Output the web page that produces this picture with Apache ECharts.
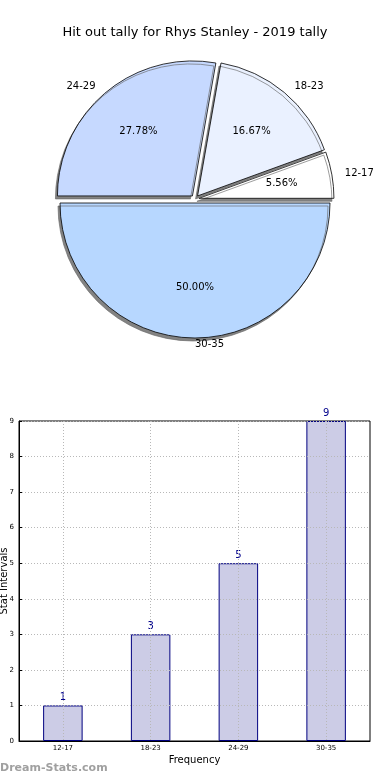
<!DOCTYPE html>
<html>
<head>
<meta charset="utf-8">
<script src="https://cdn.jsdelivr.net/npm/echarts@6/dist/echarts.min.js"></script>
<style>
html,body{margin:0;padding:0;background:#fff;}
#c{width:390px;height:780px;}
</style>
</head>
<body>
<div id="c"></div>
<script>
var titleText = 'Hit out tally for Rhys Stanley - 2019 tally';
var categories = ['12-17', '18-23', '24-29', '30-35'];
var counts = [1, 3, 5, 9];
var sliceColors = ['#ffffff', '#eaf1ff', '#c6d9ff', '#b7d7ff'];
var yTicks = [0, 1, 2, 3, 4, 5, 6, 7, 8, 9];

var FONT = 'DejaVu Sans';
var total = counts.reduce(function (a, b) { return a + b; }, 0);

var pieData = categories.map(function (c, i) {
  return { name: c, value: counts[i], selected: true, itemStyle: { color: sliceColors[i] } };
});
var labelData = categories.map(function (c, i) {
  return { name: c, value: counts[i], selected: true };
});

var chart = echarts.init(document.getElementById('c'));
chart.setOption({
  animation: false,
  backgroundColor: '#ffffff',
  title: {
    text: titleText, left: 'center', top: 21,
    textStyle: { fontFamily: FONT, fontSize: 13, fontWeight: 'normal', color: '#000' }
  },
  graphic: [{
    type: 'text', left: 0, top: 763,
    style: { text: 'Dream-Stats.com', fill: '#a0a0a0', font: 'bold 11px "DejaVu Sans"' }
  }],
  grid: {
    left: 19, right: 20, top: 421, bottom: 39,
    containLabel: false, outerBoundsMode: 'none',
    show: true, borderColor: '#000', borderWidth: 1, backgroundColor: 'transparent'
  },
  xAxis: {
    type: 'category', data: categories, z: 5,
    name: 'Frequency', nameLocation: 'middle', nameGap: 14, nameMoveOverlap: false,
    nameTextStyle: { fontFamily: FONT, fontSize: 10, color: '#000', verticalAlign: 'top' },
    axisLine: { show: true, lineStyle: { color: '#000' } },
    axisTick: { show: false },
    axisLabel: { fontFamily: FONT, fontSize: 7, color: '#000', margin: 4 },
    splitLine: { show: true, alignWithLabel: true, lineStyle: { color: '#b8b8b8', type: [1, 2], width: 1 } }
  },
  yAxis: {
    type: 'value', min: 0, max: 9, interval: 1, z: 5,
    name: 'Stat Intervals', nameLocation: 'middle', nameGap: 10, nameMoveOverlap: false,
    nameTextStyle: { fontFamily: FONT, fontSize: 10, color: '#000' },
    axisLine: { show: true, lineStyle: { color: '#000' } },
    axisTick: { show: true, inside: true, length: 3, lineStyle: { color: '#000' } },
    axisLabel: {
      fontFamily: FONT, fontSize: 7, color: '#000', margin: 5,
      formatter: function (v) { return yTicks.indexOf(v) >= 0 ? String(v) : ''; }
    },
    splitLine: { show: true, lineStyle: { color: '#b8b8b8', type: [1, 2], width: 1 } }
  },
  series: [
    {
      type: 'bar', data: counts, barWidth: '45%', z: 2,
      itemStyle: { color: '#ccccE6', borderColor: '#000080', borderWidth: 1 },
      label: { show: true, position: 'top', distance: 3, fontFamily: FONT, fontSize: 10, color: '#00008b' },
      silent: true
    },
    {
      type: 'pie', data: pieData, center: [195, 199], radius: [0, 135],
      startAngle: 0, clockwise: false, selectedMode: 'multiple', selectedOffset: 4,
      silent: true, z: 3,
      itemStyle: { borderColor: '#000', borderWidth: 0.8, shadowColor: 'rgba(100,100,100,0.8)', shadowBlur: 0, shadowOffsetX: -2, shadowOffsetY: 3 },
      label: { show: true, position: 'outside', fontFamily: FONT, fontSize: 10, color: '#000' },
      labelLine: { show: false, length: 8, length2: 0 },
      labelLayout: function (p) {
        if (p.dataIndex === categories.length - 1) {
          return { align: 'left', dx: 5, dy: -2 };
        }
        return {};
      },
      emphasis: { disabled: true }
    },
    {
      type: 'pie', data: labelData, center: [195, 199], radius: [0, 162],
      startAngle: 0, clockwise: false, selectedMode: 'multiple', selectedOffset: 4,
      silent: true, z: 4,
      itemStyle: { color: 'rgba(0,0,0,0)', borderWidth: 0 },
      label: {
        show: true, position: 'inside', fontFamily: FONT, fontSize: 10, color: '#000',
        formatter: function (p) { return (p.value / total * 100).toFixed(2) + '%'; }
      },
      labelLine: { show: false },
      emphasis: { disabled: true }
    }
  ]
});
</script>
</body>
</html>
